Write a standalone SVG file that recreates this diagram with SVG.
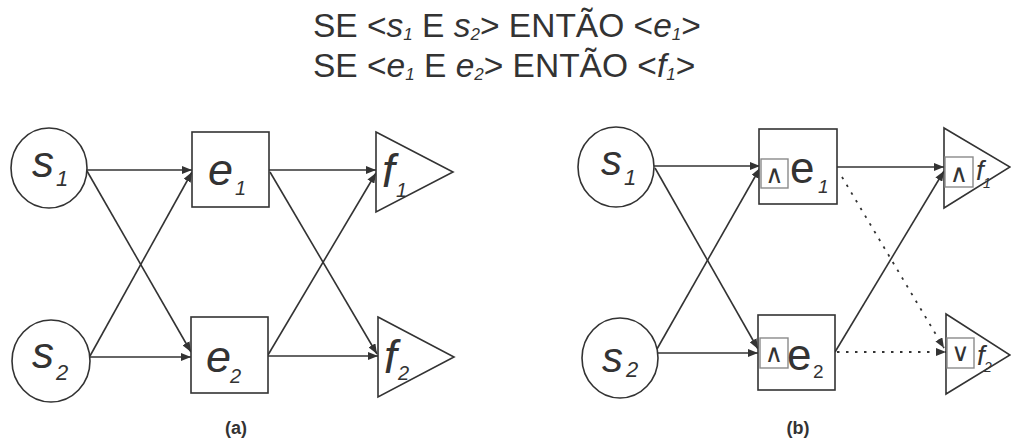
<svg xmlns="http://www.w3.org/2000/svg" width="1011" height="440" viewBox="0 0 1011 440">
<defs>
<style>
.sh{fill:#fff;stroke:#333;stroke-width:1.6}
.sb{fill:none;stroke:#8a8a8a;stroke-width:1.4}
.ln{fill:none;stroke:#333;stroke-width:1.6}
.dt{fill:none;stroke:#333;stroke-width:1.8;stroke-dasharray:2.5 6.5}
text{font-family:"Liberation Sans",Arial,sans-serif;fill:#333}
.it{font-style:italic}
.cap{font-family:"Liberation Sans",Arial,sans-serif;font-weight:bold;font-size:18px;fill:#333}
.op{font-family:"DejaVu Sans",sans-serif;font-size:25px;fill:#333}
</style>
<marker id="ah" markerUnits="userSpaceOnUse" markerWidth="10" markerHeight="8" refX="10" refY="4" orient="auto">
<path d="M0,0 L10,4 L0,8 z" fill="#333"/>
</marker>
</defs>
<rect width="1011" height="440" fill="#fff"/>
<g id="title" font-size="33.5">
<text x="313" y="37">SE &lt;<tspan class="it">s</tspan><tspan class="it" font-size="17" dy="3">1</tspan><tspan dy="-3"> E </tspan><tspan class="it">s</tspan><tspan class="it" font-size="17" dy="3">2</tspan><tspan dy="-3">&gt; ENTÃO &lt;</tspan><tspan class="it">e</tspan><tspan class="it" font-size="17" dy="3">1</tspan><tspan dy="-3">&gt;</tspan></text>
<text x="313" y="77">SE &lt;<tspan class="it">e</tspan><tspan class="it" font-size="17" dy="3">1</tspan><tspan dy="-3"> E </tspan><tspan class="it">e</tspan><tspan class="it" font-size="17" dy="3">2</tspan><tspan dy="-3">&gt; ENTÃO &lt;</tspan><tspan class="it">f</tspan><tspan class="it" font-size="17" dy="3">1</tspan><tspan dy="-3">&gt;</tspan></text>
</g>
<g id="connectors">
<line class="ln" x1="87" y1="170" x2="192" y2="170" marker-end="url(#ah)"/>
<line class="ln" x1="87" y1="171" x2="191" y2="352" marker-end="url(#ah)"/>
<line class="ln" x1="90" y1="356" x2="192" y2="172" marker-end="url(#ah)"/>
<line class="ln" x1="90" y1="357" x2="191" y2="357" marker-end="url(#ah)"/>
<line class="ln" x1="269" y1="170" x2="376" y2="170" marker-end="url(#ah)"/>
<line class="ln" x1="270" y1="172" x2="377" y2="354" marker-end="url(#ah)"/>
<line class="ln" x1="268" y1="355" x2="376" y2="173" marker-end="url(#ah)"/>
<line class="ln" x1="268" y1="356" x2="378" y2="356" marker-end="url(#ah)"/>
<line class="ln" x1="654" y1="166" x2="760" y2="166" marker-end="url(#ah)"/>
<line class="ln" x1="655" y1="168" x2="758" y2="349" marker-end="url(#ah)"/>
<line class="ln" x1="657" y1="349" x2="760" y2="168" marker-end="url(#ah)"/>
<line class="ln" x1="657" y1="353" x2="758" y2="353" marker-end="url(#ah)"/>
<line class="ln" x1="837" y1="167" x2="944" y2="167" marker-end="url(#ah)"/>
<line class="ln" x1="835" y1="352" x2="944" y2="171" marker-end="url(#ah)"/>
<line class="dt" x1="842" y1="177" x2="944" y2="348" marker-end="url(#ah)"/>
<line class="dt" x1="837" y1="352" x2="946" y2="352" marker-end="url(#ah)"/>
</g>
<g id="a-s1"><ellipse class="sh" cx="49" cy="168" rx="38" ry="40"/><text class="it" x="32" y="177" font-size="44">s</text><text class="it" x="56" y="186" font-size="22">1</text></g>
<g id="a-s2"><ellipse class="sh" cx="51" cy="361" rx="39" ry="41"/><text class="it" x="32" y="368" font-size="44">s</text><text class="it" x="56" y="380" font-size="22">2</text></g>
<g id="a-e1"><rect class="sh" x="192" y="132" width="77" height="75"/><text class="it" x="208" y="185" font-size="45">e</text><text class="it" x="235" y="195" font-size="20">1</text></g>
<g id="a-e2"><rect class="sh" x="191" y="317" width="77" height="76"/><text class="it" x="206" y="372" font-size="45">e</text><text class="it" x="230" y="383" font-size="20">2</text></g>
<g id="a-f1"><polygon class="sh" points="376,132 453,172 376,212"/><text class="it" x="382" y="187" font-size="46">f</text><text class="it" x="396" y="197" font-size="20">1</text></g>
<g id="a-f2"><polygon class="sh" points="378,317 454,357 378,397"/><text class="it" x="384" y="373" font-size="46">f</text><text class="it" x="398" y="380" font-size="20">2</text></g>
<g id="b-s1"><ellipse class="sh" cx="616" cy="167" rx="38" ry="40"/><text class="it" x="601" y="175" font-size="42">s</text><text class="it" x="624" y="185" font-size="22">1</text></g>
<g id="b-s2"><ellipse class="sh" cx="620" cy="358" rx="38" ry="40"/><text class="it" x="602" y="372" font-size="42">s</text><text class="it" x="626" y="377" font-size="22">2</text></g>
<g id="b-e1"><rect class="sh" x="759" y="129" width="78" height="75"/><rect class="sb" x="761" y="159" width="27" height="29"/><text class="op" x="774.5" y="183" text-anchor="middle">∧</text><text x="790" y="183" font-size="44">e</text><text class="it" x="818" y="193" font-size="19">1</text></g>
<g id="b-e2"><rect class="sh" x="758" y="315" width="77" height="75"/><rect class="sb" x="760" y="338" width="28" height="30"/><text class="op" x="774" y="362" text-anchor="middle">∧</text><text x="787" y="370" font-size="44">e</text><text x="813" y="378" font-size="19">2</text></g>
<g id="b-f1"><polygon class="sh" points="944,128 1010,167 944,208"/><rect class="sb" x="945" y="157" width="28" height="30"/><text class="op" x="959" y="182" text-anchor="middle">∧</text><text class="it" x="976" y="180" font-size="28">f</text><text class="it" x="983" y="188" font-size="14">1</text></g>
<g id="b-f2"><polygon class="sh" points="946,314 1010,355 946,394"/><rect class="sb" x="947" y="338" width="27" height="30"/><text class="op" x="960.5" y="361" text-anchor="middle">∨</text><text class="it" x="977" y="365" font-size="28">f</text><text class="it" x="984" y="372" font-size="14">2</text></g>
<g id="captions"><text class="cap" x="236" y="434" text-anchor="middle">(a)</text><text class="cap" x="798" y="434" text-anchor="middle">(b)</text></g>
</svg>
